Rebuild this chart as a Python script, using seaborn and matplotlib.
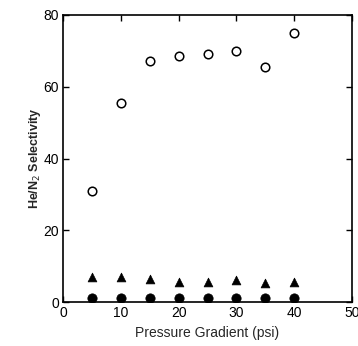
import matplotlib
matplotlib.use("Agg")
import matplotlib.pyplot as plt
import seaborn as sns
import pandas as pd

pressure = [5, 10, 15, 20, 25, 30, 35, 40]
sel_open = [30.9, 55.5, 67.2, 68.6, 69.1, 70.0, 65.4, 74.9]
sel_triangle = [6.9, 6.9, 6.3, 5.7, 5.7, 6.1, 5.4, 5.7]
sel_filled = [1.0, 1.0, 1.0, 1.0, 1.0, 1.0, 1.0, 1.0]

sns.set_theme(style="ticks")
plt.rcParams['font.family'] = ['Liberation Sans', 'DejaVu Sans']

df = pd.DataFrame({"p": pressure, "open": sel_open,
                   "tri": sel_triangle, "fill": sel_filled})

fig = plt.figure(figsize=(3.58, 3.46), dpi=100)
ax = fig.add_axes([63 / 358, 1 - 302 / 346, 289 / 358, 287 / 346])

sns.scatterplot(data=df, x="p", y="open", ax=ax, marker="o", s=38,
                facecolor="white", edgecolor="black", linewidth=1.1)
sns.scatterplot(data=df, x="p", y="tri", ax=ax, marker="^", s=40,
                color="black", edgecolor="black", linewidth=0.5)
sns.scatterplot(data=df, x="p", y="fill", ax=ax, marker="o", s=45,
                color="black", edgecolor="black", linewidth=0.5)

ax.set_xlim(0, 50)
ax.set_ylim(0, 80)
ax.set_xticks([0, 10, 20, 30, 40, 50])
ax.set_yticks([0, 20, 40, 60, 80])
ax.tick_params(direction="in", top=True, right=True, length=4, width=1,
               labelsize=10, colors="black", pad=3)
for s in ax.spines.values():
    s.set_linewidth(1.2)
    s.set_color("black")
ax.set_xlabel("Pressure Gradient (psi)", fontsize=10, labelpad=4)
ax.set_ylabel("He/N$_2$ Selectivity", fontsize=9, fontweight="bold", labelpad=0)

fig.savefig("out.png", dpi=100)
